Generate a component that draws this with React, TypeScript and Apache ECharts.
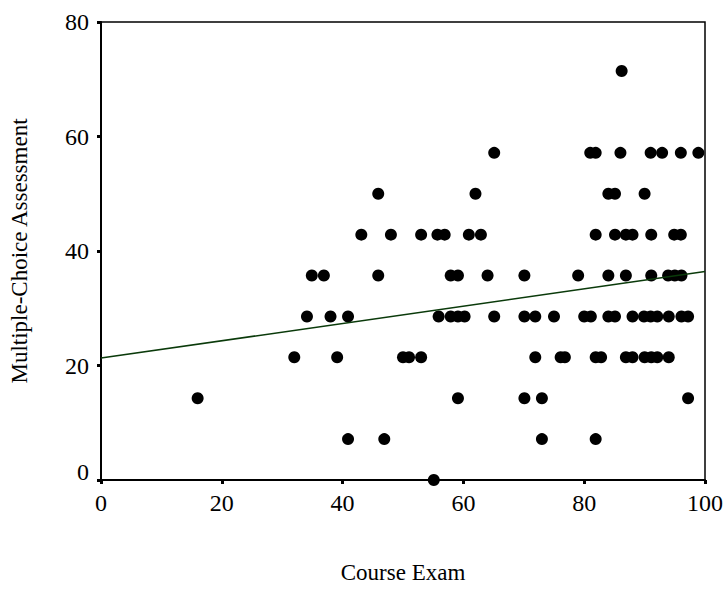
import React, { useEffect, useRef } from "react";
import * as echarts from "echarts";

// Data (Course Exam score, Multiple-Choice Assessment score)
const courseExam: number[] = [
  55.1,
  40.9, 46.9, 73.0, 81.9,
  16.0, 59.1, 70.1, 73.0, 97.2,
  32.0, 39.1, 50.0, 51.0, 53.0, 71.9, 76.1, 76.8, 81.9, 82.8, 86.9, 88.0, 90.0, 91.1, 92.1, 94.0,
  34.1, 38.0, 40.9, 55.9, 57.9, 59.1, 60.2, 65.1, 70.1, 71.9, 75.0, 80.0, 81.1, 84.0, 85.1, 88.0, 89.9, 91.0, 92.1, 94.0, 96.1, 97.2,
  34.9, 36.9, 45.9, 57.9, 59.1, 64.0, 70.1, 79.0, 84.0, 86.9, 91.1, 93.9, 95.0, 96.1,
  43.1, 48.0, 53.0, 55.7, 56.9, 60.9, 62.9, 81.9, 85.1, 86.9, 88.0, 91.1, 94.9, 96.0,
  45.9, 62.0, 84.0, 85.1, 90.0,
  65.1, 81.0, 81.9, 86.0, 91.0, 92.9, 96.0, 98.9,
  86.2,
];

const multipleChoice: number[] = [
  0,
  7.14, 7.14, 7.14, 7.14,
  14.29, 14.29, 14.29, 14.29, 14.29,
  21.43, 21.43, 21.43, 21.43, 21.43, 21.43, 21.43, 21.43, 21.43, 21.43, 21.43, 21.43, 21.43, 21.43, 21.43, 21.43,
  28.57, 28.57, 28.57, 28.57, 28.57, 28.57, 28.57, 28.57, 28.57, 28.57, 28.57, 28.57, 28.57, 28.57, 28.57, 28.57, 28.57, 28.57, 28.57, 28.57, 28.57, 28.57,
  35.71, 35.71, 35.71, 35.71, 35.71, 35.71, 35.71, 35.71, 35.71, 35.71, 35.71, 35.71, 35.71, 35.71,
  42.86, 42.86, 42.86, 42.86, 42.86, 42.86, 42.86, 42.86, 42.86, 42.86, 42.86, 42.86, 42.86, 42.86,
  50, 50, 50, 50, 50,
  57.14, 57.14, 57.14, 57.14, 57.14, 57.14, 57.14, 57.14,
  71.43,
];

// Fit line end points
const fitX: number[] = [0, 100];
const fitY: number[] = [21.3, 36.4];

const xTicks: number[] = [0, 20, 40, 60, 80, 100];
const yTicks: number[] = [0, 20, 40, 60, 80];

export default function App() {
  const ref = useRef<HTMLDivElement>(null);

  useEffect(() => {
    if (!ref.current) return;
    const chart = echarts.init(ref.current, undefined, { renderer: "svg" });
    const font = "'Liberation Serif', 'Times New Roman', serif";
    const points = courseExam.map((x, i) => [x, multipleChoice[i]]);
    const fit = fitX.map((x, i) => [x, fitY[i]]);

    chart.setOption({
      animation: false,
      backgroundColor: "#ffffff",
      grid: {
        left: 95,
        right: 21,
        top: 22,
        bottom: 100,
        show: true,
        borderColor: "#000000",
        borderWidth: 1.5,
        backgroundColor: "transparent",
      },
      xAxis: {
        type: "value",
        min: xTicks[0],
        max: xTicks[xTicks.length - 1],
        interval: 20,
        name: "Course Exam",
        nameLocation: "middle",
        nameGap: 81,
        nameTextStyle: { fontFamily: font, fontSize: 23, color: "#000" },
        axisLine: { show: true, lineStyle: { color: "#000", width: 2 } },
        axisTick: { show: true, inside: false, length: 4, lineStyle: { color: "#000", width: 3 } },
        axisLabel: { fontFamily: font, fontSize: 24, color: "#000", margin: 11 },
        splitLine: { show: false },
      },
      yAxis: {
        type: "value",
        min: yTicks[0],
        max: yTicks[yTicks.length - 1],
        interval: 20,
        name: "Multiple-Choice Assessment",
        nameLocation: "middle",
        nameGap: 70,
        nameTextStyle: { fontFamily: font, fontSize: 23, color: "#000" },
        axisLine: { show: true, lineStyle: { color: "#000", width: 2 } },
        axisTick: { show: true, inside: false, length: 4, lineStyle: { color: "#000", width: 3 } },
        axisLabel: {
          fontFamily: font,
          fontSize: 24,
          color: "#000",
          margin: 12,
          formatter: (v: number) => (v === 0 ? "{z|0}" : String(v)),
          rich: { z: { fontFamily: font, fontSize: 24, color: "#000", padding: [0, 0, 16, 0] } },
        },
        splitLine: { show: false },
      },
      series: [
        {
          type: "line",
          data: fit,
          showSymbol: false,
          symbol: "none",
          lineStyle: { color: "#0a3a0a", width: 1.5 },
          z: 3,
        },
        {
          type: "scatter",
          data: points,
          symbol: "circle",
          symbolSize: 12,
          itemStyle: { color: "#000000", opacity: 1 },
          clip: false,
          z: 2,
        },
      ],
    });

    return () => chart.dispose();
  }, []);

  return <div ref={ref} style={{ width: 726, height: 589, position: "absolute", left: 0, top: 0 }} />;
}
